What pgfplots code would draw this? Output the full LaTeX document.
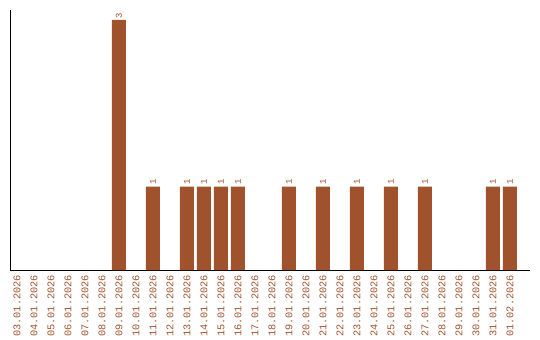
\documentclass[border=0pt]{standalone}
\usepackage{pgfplots}
\pgfplotsset{compat=1.18}
\usepackage{fontspec}
\setmainfont{Liberation Sans}
\newfontfamily\monof{Liberation Mono}
\definecolor{sienna}{HTML}{A0522D}
\begin{document}
\begin{tikzpicture}
\begin{axis}[
  scale only axis,
  width=520bp, height=260bp,
  xmin=-0.41, xmax=30.18,
  ymin=0, ymax=3.12,
  axis x line=bottom, axis y line=left,
  axis line style={-, black, line width=0.8pt},
  ytick=\empty,
  xtick={0,...,29},
  xticklabels={03.01.2026,04.01.2026,05.01.2026,06.01.2026,07.01.2026,08.01.2026,09.01.2026,10.01.2026,11.01.2026,12.01.2026,13.01.2026,14.01.2026,15.01.2026,16.01.2026,17.01.2026,18.01.2026,19.01.2026,20.01.2026,21.01.2026,22.01.2026,23.01.2026,24.01.2026,25.01.2026,26.01.2026,27.01.2026,28.01.2026,29.01.2026,30.01.2026,31.01.2026,01.02.2026},
  major tick length=0pt,
  xticklabel style={rotate=90, anchor=east, font=\monof\fontsize{10.3}{11}\selectfont, text=sienna, inner sep=0pt},
  xticklabel shift=5bp,
  /pgf/number format/assume math mode=true,
  ybar, bar width=14bp,
  nodes near coords={\monof\fontsize{9}{10}\selectfont\pgfmathprintnumber{\pgfplotspointmeta}},
  every node near coord/.append style={rotate=90, anchor=west, text=sienna, inner sep=1.5pt},
  clip=false,
]
\addplot[fill=sienna, draw=none, bar shift=0pt] coordinates {
(6,3) (8,1) (10,1) (11,1) (12,1) (13,1) (16,1) (18,1) (20,1) (22,1) (24,1) (28,1) (29,1)
};
\end{axis}
\path ([xshift=-10bp,yshift=-70bp]current axis.south west) rectangle ([xshift=10bp,yshift=10bp]current axis.north east);
\end{tikzpicture}
\end{document}
